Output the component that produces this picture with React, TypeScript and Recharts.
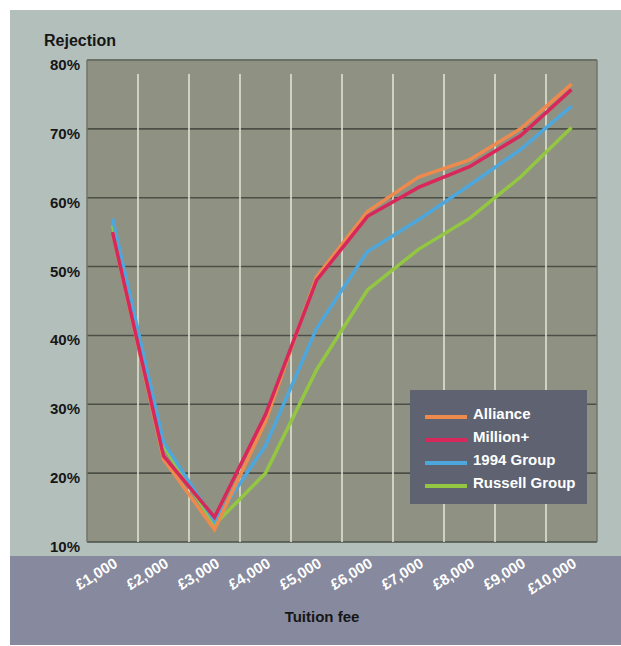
import { LineChart, Line, XAxis, YAxis, CartesianGrid, ReferenceLine, Legend } from "recharts";

const FEES = [1000, 2000, 3000, 4000, 5000, 6000, 7000, 8000, 9000, 10000];
const FEE_LABELS = ["£1,000", "£2,000", "£3,000", "£4,000", "£5,000", "£6,000", "£7,000", "£8,000", "£9,000", "£10,000"];
const REJECTION_TICKS = [10, 20, 30, 40, 50, 60, 70, 80];

const ALLIANCE = [55, 22, 11.8, 27.5, 48.5, 58, 63, 65.5, 70, 76.5];
const MILLION_PLUS = [55, 22.5, 13.6, 28.5, 48, 57.3, 61.5, 64.5, 69, 75.7];
const GROUP_1994 = [57, 24.5, 13, 24, 41, 52.2, 56.8, 61.8, 67, 73.3];
const RUSSELL = [56, 24, 12.5, 20, 35, 46.6, 52.5, 57, 63, 70.2];

const SERIES = [
  { key: "alliance", name: "Alliance", color: "#ee8a4e", values: ALLIANCE },
  { key: "million", name: "Million+", color: "#d8275b", values: MILLION_PLUS },
  { key: "g1994", name: "1994 Group", color: "#4ea7dc", values: GROUP_1994 },
  { key: "russell", name: "Russell Group", color: "#93c741", values: RUSSELL },
];

// draw order: russell at the bottom, million+ on top
const DRAW_ORDER = ["russell", "g1994", "alliance", "million"];

const data = FEES.map((fee, i) => {
  const row: Record<string, number> = { fee };
  SERIES.forEach((s) => (row[s.key] = s.values[i]));
  return row;
});

// column boundaries sit halfway between fees
const BOUNDARIES = FEES.slice(1).map((f, i) => (f + FEES[i]) / 2);

const FONT = "'Liberation Sans', Arial, sans-serif";

const XTick = ({ x, y, payload }: any) => {
  const label = FEE_LABELS[FEES.indexOf(payload.value)];
  const tx = x + 6;
  const ty = y + 24;
  return (
    <text
      x={tx}
      y={ty}
      textAnchor="end"
      transform={`rotate(-32, ${tx}, ${ty})`}
      fill="#ffffff"
      fontFamily={FONT}
      fontWeight="bold"
      fontSize={15}
    >
      {label}
    </text>
  );
};

const YTick = ({ x, y, payload }: any) => (
  <text x={x} y={y + 10} textAnchor="end" fill="#161616" fontFamily={FONT} fontWeight="bold" fontSize={15}>
    {payload.value}%
  </text>
);

const GridLine = ({ x1, y1, x2, y2 }: any) => (
  <line x1={x1} y1={y1} x2={x2} y2={y2 + 14} stroke="#dfe2d4" strokeWidth={1.6} />
);

const LegendBox = () => (
  <div
    style={{
      background: "#5e6271",
      width: 177,
      height: 114,
      padding: "12px 0 0 15px",
      boxSizing: "border-box",
    }}
  >
    {SERIES.map((s) => (
      <div key={s.key} style={{ display: "flex", alignItems: "center", height: 23 }}>
        <span style={{ width: 42, height: 4, background: s.color, marginTop: 6, marginRight: 6 }} />
        <span style={{ color: "#ffffff", fontFamily: FONT, fontWeight: "bold", fontSize: 15 }}>{s.name}</span>
      </div>
    ))}
  </div>
);

export default function App() {
  return (
    <div style={{ position: "absolute", left: 0, top: 0, width: 621, height: 646, background: "#ffffff" }}>
      <style>{`body{margin:0}`}</style>
      <div style={{ position: "absolute", left: 10, top: 10, width: 611, height: 546, background: "#b3bfbb" }} />
      <div style={{ position: "absolute", left: 10, top: 556, width: 611, height: 89, background: "#878a9e" }} />
      <div
        style={{
          position: "absolute",
          left: 44,
          top: 32,
          fontFamily: FONT,
          fontWeight: "bold",
          fontSize: 16,
          color: "#161616",
        }}
      >
        Rejection
      </div>
      <div
        style={{
          position: "absolute",
          left: 0,
          width: 644,
          top: 608,
          textAlign: "center",
          fontFamily: FONT,
          fontWeight: "bold",
          fontSize: 15,
          color: "#161616",
        }}
      >
        Tuition fee
      </div>
      <div style={{ position: "absolute", left: 0, top: 0 }}>
        <LineChart width={621} height={646} data={data} margin={{ top: 60, right: 24, bottom: 74, left: 37 }}>
          <CartesianGrid vertical={false} fill="#8f9283" stroke="#4b4f46" strokeWidth={1.6} strokeOpacity={1} />
          <XAxis
            dataKey="fee"
            type="number"
            domain={[500, 10500]}
            ticks={FEES}
            interval={0}
            height={30}
            axisLine={false}
            tickLine={false}
            tickSize={0}
            tickMargin={0}
            tick={<XTick />}
          />
          <YAxis
            type="number"
            domain={[10, 80]}
            ticks={REJECTION_TICKS}
            interval={0}
            width={50}
            axisLine={false}
            tickLine={false}
            tickSize={0}
            tickMargin={7}
            tick={<YTick />}
          />
          {BOUNDARIES.map((b) => (
            <ReferenceLine key={b} x={b} shape={<GridLine />} />
          ))}
          <ReferenceLine x={500} stroke="#70746a" strokeWidth={1.5} />
          <ReferenceLine x={10500} stroke="#70746a" strokeWidth={1.5} />
          <ReferenceLine y={80} stroke="#70746a" strokeWidth={1.5} />
          {DRAW_ORDER.map((k) => {
            const s = SERIES.find((x) => x.key === k)!;
            return (
              <Line
                key={s.key}
                dataKey={s.key}
                name={s.name}
                stroke={s.color}
                strokeWidth={3.5}
                dot={false}
                activeDot={false}
                type="linear"
                isAnimationActive={false}
              />
            );
          })}
          <Legend
            verticalAlign="middle"
            align="center"
            content={<LegendBox />}
            wrapperStyle={{ position: "absolute", left: 410, top: 390, width: 177, height: 114 }}
          />
        </LineChart>
      </div>
    </div>
  );
}
